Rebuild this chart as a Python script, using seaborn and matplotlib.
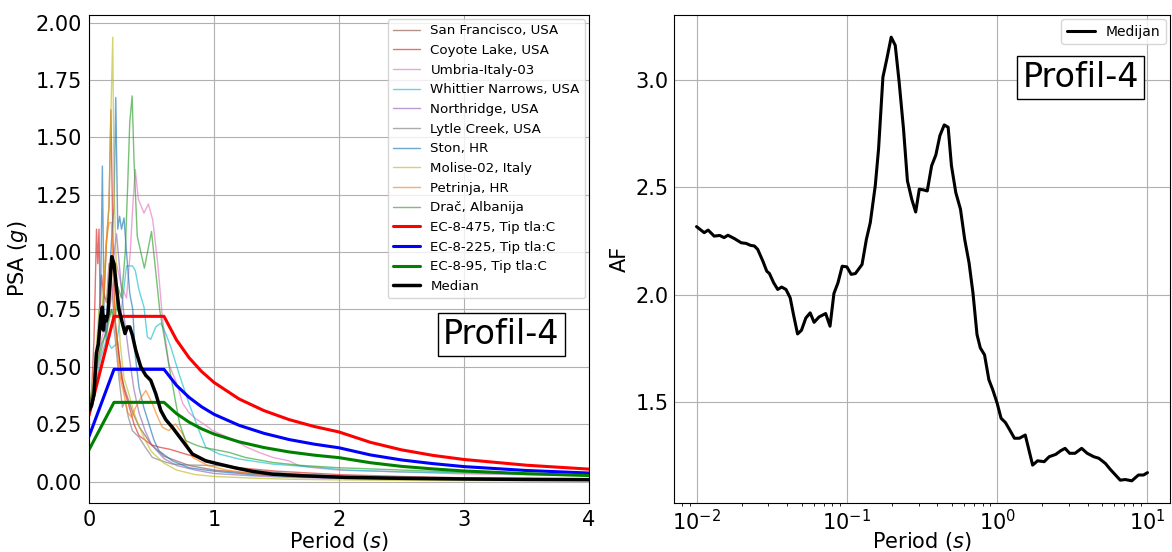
import matplotlib
matplotlib.use("Agg")
import matplotlib.pyplot as plt
import seaborn as sns
import numpy as np

# records (period [s], PSA [g])
T_sf = [0, 0.03, 0.06, 0.08, 0.1, 0.12, 0.14, 0.16, 0.18, 0.2, 0.23, 0.26, 0.3, 0.35, 0.4, 0.5, 0.6, 0.8, 1.0, 1.3, 1.6, 2.0, 2.5, 3.0, 4.0]
psa_sf = [0.33, 0.40, 0.55, 0.62, 0.70, 0.82, 0.78, 0.95, 0.88, 0.72, 0.60, 0.45, 0.38, 0.30, 0.24, 0.16, 0.11, 0.07, 0.05, 0.035, 0.025, 0.018, 0.012, 0.009, 0.006]

T_coyote = [0, 0.02, 0.04, 0.05, 0.06, 0.07, 0.08, 0.09, 0.1, 0.12, 0.14, 0.16, 0.175, 0.19, 0.21, 0.24, 0.28, 0.32, 0.36, 0.4, 0.45, 0.5, 0.56, 0.65, 0.77, 0.9, 1.04, 1.2, 1.5, 2.0, 2.5, 3.0, 4.0]
psa_coyote = [0.30, 0.38, 0.62, 0.85, 1.10, 0.95, 1.10, 0.75, 0.90, 0.80, 1.05, 1.20, 1.62, 1.10, 0.70, 0.55, 0.40, 0.33, 0.25, 0.20, 0.18, 0.16, 0.15, 0.14, 0.12, 0.10, 0.076, 0.06, 0.045, 0.03, 0.022, 0.016, 0.01]

T_umbria = [0, 0.03, 0.06, 0.1, 0.14, 0.18, 0.22, 0.26, 0.3, 0.33, 0.35, 0.37, 0.395, 0.44, 0.475, 0.51, 0.55, 0.59, 0.64, 0.7, 0.75, 0.8, 0.855, 0.92, 0.99, 1.08, 1.17, 1.26, 1.36, 1.47, 1.6, 1.68, 1.8, 2.0, 2.3, 2.6, 3.0, 3.5, 4.0]
psa_umbria = [0.32, 0.38, 0.50, 0.62, 0.70, 0.80, 0.95, 0.85, 0.80, 1.0, 1.2, 1.36, 1.23, 1.17, 1.21, 1.14, 0.95, 0.70, 0.51, 0.43, 0.34, 0.30, 0.273, 0.25, 0.222, 0.20, 0.178, 0.15, 0.127, 0.105, 0.09, 0.069, 0.06, 0.05, 0.045, 0.04, 0.033, 0.03, 0.025]

T_whittier = [0, 0.03, 0.06, 0.1, 0.14, 0.18, 0.22, 0.26, 0.3, 0.347, 0.37, 0.4, 0.44, 0.467, 0.494, 0.534, 0.574, 0.614, 0.654, 0.72, 0.8, 0.88, 0.934, 1.04, 1.2, 1.47, 1.84, 2.05, 2.5, 3.0, 3.5, 4.0]
psa_whittier = [0.33, 0.36, 0.45, 0.55, 0.62, 0.58, 0.60, 0.75, 0.94, 0.94, 0.92, 0.835, 0.76, 0.63, 0.62, 0.674, 0.69, 0.645, 0.587, 0.47, 0.34, 0.222, 0.149, 0.12, 0.098, 0.076, 0.061, 0.05, 0.042, 0.037, 0.032, 0.03]

T_northridge = [0, 0.03, 0.05, 0.08, 0.1, 0.13, 0.16, 0.19, 0.22, 0.25, 0.28, 0.32, 0.36, 0.4, 0.45, 0.5, 0.6, 0.7, 0.85, 1.0, 1.3, 1.6, 2.0, 2.5, 3.0, 4.0]
psa_northridge = [0.30, 0.34, 0.45, 0.60, 0.70, 0.65, 0.85, 0.95, 1.08, 0.90, 0.72, 0.55, 0.40, 0.30, 0.22, 0.16, 0.10, 0.07, 0.05, 0.035, 0.025, 0.018, 0.013, 0.009, 0.007, 0.005]

T_lytle = [0, 0.03, 0.06, 0.09, 0.12, 0.15, 0.18, 0.21, 0.24, 0.267, 0.29, 0.315, 0.347, 0.4, 0.45, 0.507, 0.58, 0.667, 0.8, 1.04, 1.3, 1.6, 2.0, 2.5, 3.0, 4.0]
psa_lytle = [0.32, 0.36, 0.48, 0.55, 0.62, 0.70, 0.75, 0.62, 0.45, 0.324, 0.35, 0.28, 0.222, 0.193, 0.15, 0.105, 0.09, 0.076, 0.072, 0.069, 0.05, 0.035, 0.025, 0.02, 0.016, 0.012]

T_ston = [0, 0.03, 0.06, 0.08, 0.095, 0.107, 0.12, 0.14, 0.16, 0.18, 0.2, 0.214, 0.23, 0.245, 0.26, 0.28, 0.3, 0.326, 0.35, 0.37, 0.4, 0.44, 0.48, 0.52, 0.56, 0.667, 0.8, 1.0, 1.3, 1.6, 2.0, 2.5, 3.0, 4.0]
psa_ston = [0.34, 0.40, 0.55, 0.70, 0.90, 1.375, 0.75, 0.60, 0.85, 1.05, 1.20, 1.674, 1.10, 1.156, 1.10, 1.149, 1.0, 0.82, 0.75, 0.55, 0.41, 0.32, 0.25, 0.18, 0.134, 0.09, 0.06, 0.045, 0.03, 0.022, 0.016, 0.011, 0.008, 0.005]

T_molise = [0, 0.03, 0.06, 0.08, 0.1, 0.12, 0.14, 0.16, 0.175, 0.19, 0.2, 0.22, 0.25, 0.28, 0.32, 0.36, 0.4, 0.45, 0.5, 0.6, 0.7, 0.85, 1.0, 1.3, 1.6, 2.0, 2.5, 3.0, 4.0]
psa_molise = [0.35, 0.42, 0.60, 0.75, 0.68, 0.90, 1.05, 1.20, 1.60, 1.937, 1.30, 0.90, 0.60, 0.45, 0.38, 0.30, 0.24, 0.18, 0.13, 0.08, 0.05, 0.03, 0.022, 0.015, 0.01, 0.007, 0.005, 0.004, 0.003]

T_petrinja = [0, 0.03, 0.06, 0.09, 0.12, 0.14, 0.16, 0.18, 0.2, 0.22, 0.25, 0.28, 0.31, 0.34, 0.374, 0.41, 0.455, 0.507, 0.55, 0.587, 0.64, 0.69, 0.75, 0.83, 0.95, 1.1, 1.3, 1.6, 2.0, 2.5, 3.0, 4.0]
psa_petrinja = [0.31, 0.36, 0.50, 0.65, 0.80, 1.05, 1.127, 1.13, 0.80, 0.60, 0.45, 0.38, 0.30, 0.28, 0.324, 0.36, 0.397, 0.339, 0.28, 0.236, 0.222, 0.251, 0.207, 0.105, 0.07, 0.05, 0.035, 0.025, 0.018, 0.013, 0.01, 0.007]

T_drac = [0, 0.03, 0.06, 0.1, 0.14, 0.18, 0.21, 0.23, 0.26, 0.29, 0.31, 0.326, 0.345, 0.36, 0.386, 0.443, 0.5, 0.566, 0.646, 0.726, 0.774, 0.85, 0.91, 1.0, 1.12, 1.25, 1.47, 1.7, 2.0, 2.5, 3.0, 3.5, 4.0]
psa_drac = [0.34, 0.38, 0.50, 0.60, 0.65, 0.75, 0.70, 0.85, 0.80, 1.00, 1.30, 1.565, 1.681, 1.40, 1.07, 0.93, 1.09, 0.747, 0.485, 0.25, 0.178, 0.16, 0.149, 0.14, 0.127, 0.105, 0.083, 0.07, 0.06, 0.05, 0.04, 0.035, 0.03]

record_names = ["San Francisco, USA", "Coyote Lake, USA", "Umbria-Italy-03", "Whittier Narrows, USA",
                "Northridge, USA", "Lytle Creek, USA", "Ston, HR", "Molise-02, Italy", "Petrinja, HR", "Dra\u010d, Albanija"]
record_T = [T_sf, T_coyote, T_umbria, T_whittier, T_northridge, T_lytle, T_ston, T_molise, T_petrinja, T_drac]
record_psa = [psa_sf, psa_coyote, psa_umbria, psa_whittier, psa_northridge, psa_lytle, psa_ston, psa_molise, psa_petrinja, psa_drac]
record_colors = ["tab:brown", "tab:red", "tab:pink", "tab:cyan", "tab:purple",
                 "tab:gray", "tab:blue", "tab:olive", "tab:orange", "tab:green"]

# EC-8 elastic spectra, ground type C
T_ec8 = [0, 0.2, 0.6, 0.7, 0.8, 0.9, 1.0, 1.2, 1.4, 1.6, 1.8, 2.0, 2.25, 2.5, 2.75, 3.0, 3.5, 4.0]
ec8_475 = [0.288, 0.72, 0.72, 0.617, 0.54, 0.48, 0.432, 0.36, 0.309, 0.27, 0.24, 0.216, 0.171, 0.138, 0.114, 0.096, 0.071, 0.054]
ec8_225 = [0.196, 0.489, 0.489, 0.419, 0.367, 0.326, 0.293, 0.245, 0.21, 0.183, 0.163, 0.147, 0.116, 0.094, 0.078, 0.065, 0.048, 0.037]
ec8_95 = [0.138, 0.345, 0.345, 0.296, 0.259, 0.23, 0.207, 0.173, 0.148, 0.129, 0.115, 0.104, 0.082, 0.066, 0.055, 0.046, 0.034, 0.026]

# median spectrum
T_med = [0, 0.02, 0.04, 0.059, 0.075, 0.094, 0.107, 0.115, 0.126, 0.139, 0.152, 0.166, 0.182, 0.2, 0.219, 0.24, 0.267, 0.288, 0.307, 0.326, 0.347, 0.374, 0.414, 0.454, 0.494, 0.534, 0.574, 0.614, 0.667, 0.747, 0.827, 0.934, 1.04, 1.174, 1.31, 1.47, 1.71, 2.05, 2.5, 3.0, 3.5, 4.0]
psa_med = [0.31, 0.33, 0.38, 0.56, 0.60, 0.72, 0.76, 0.66, 0.72, 0.70, 0.73, 0.85, 0.98, 0.95, 0.85, 0.75, 0.69, 0.645, 0.674, 0.674, 0.638, 0.572, 0.50, 0.463, 0.441, 0.383, 0.31, 0.27, 0.236, 0.178, 0.12, 0.09, 0.076, 0.059, 0.044, 0.032, 0.025, 0.018, 0.014, 0.011, 0.009, 0.008]

# amplification factor (right panel), log10 of period
logT_af = [-2.0, -1.949, -1.923, -1.883, -1.846, -1.817, -1.791, -1.747, -1.703, -1.670, -1.641, -1.615, -1.593, -1.559, -1.533, -1.515, -1.487, -1.460, -1.434, -1.405, -1.377, -1.355, -1.328, -1.302, -1.273, -1.244, -1.218, -1.185, -1.141, -1.112, -1.086, -1.059, -1.031, -1.0, -0.971, -0.943, -0.899, -0.870, -0.844, -0.811, -0.789, -0.760, -0.734, -0.705, -0.678, -0.652, -0.623, -0.597, -0.568, -0.542, -0.518, -0.491, -0.465, -0.436, -0.408, -0.381, -0.352, -0.326, -0.304, -0.275, -0.244, -0.216, -0.187, -0.161, -0.134, -0.112, -0.084, -0.055, -0.029, 0.0, 0.026, 0.055, 0.081, 0.115, 0.148, 0.187, 0.214, 0.236, 0.269, 0.313, 0.346, 0.390, 0.423, 0.452, 0.482, 0.518, 0.562, 0.599, 0.643, 0.676, 0.720, 0.753, 0.782, 0.819, 0.852, 0.896, 0.940, 0.974, 1.0]
af = [2.316, 2.288, 2.300, 2.272, 2.275, 2.265, 2.276, 2.260, 2.241, 2.238, 2.229, 2.226, 2.210, 2.156, 2.109, 2.098, 2.055, 2.024, 2.035, 2.024, 1.985, 1.907, 1.817, 1.834, 1.891, 1.915, 1.871, 1.896, 1.912, 1.853, 2.005, 2.055, 2.132, 2.129, 2.094, 2.098, 2.140, 2.257, 2.335, 2.506, 2.677, 3.011, 3.096, 3.197, 3.159, 2.988, 2.770, 2.529, 2.443, 2.384, 2.490, 2.487, 2.482, 2.599, 2.649, 2.739, 2.789, 2.778, 2.599, 2.474, 2.397, 2.257, 2.148, 2.008, 1.814, 1.752, 1.720, 1.604, 1.557, 1.495, 1.425, 1.405, 1.374, 1.332, 1.332, 1.347, 1.270, 1.207, 1.227, 1.223, 1.246, 1.257, 1.274, 1.285, 1.262, 1.262, 1.285, 1.262, 1.246, 1.239, 1.215, 1.187, 1.165, 1.137, 1.140, 1.134, 1.161, 1.161, 1.172]
T_af = [10 ** v for v in logT_af]

sns.set_style("ticks")
plt.rcParams['font.family'] = ['DejaVu Sans']
plt.rcParams['axes.edgecolor'] = 'black'
plt.rcParams['text.color'] = 'black'
plt.rcParams['axes.labelcolor'] = 'black'
plt.rcParams['xtick.color'] = 'black'
plt.rcParams['ytick.color'] = 'black'

fig, axs = plt.subplots(1, 2, figsize=(11.72, 5.52), dpi=100)
W, H = 1172, 552
axs[0].set_position([89 / W, (H - 503) / H, 500 / W, 488 / H])
axs[1].set_position([674 / W, (H - 503) / H, 496 / W, 488 / H])

ax = axs[0]
for name, t, p, c in zip(record_names, record_T, record_psa, record_colors):
    sns.lineplot(x=t, y=p, ax=ax, color=c, lw=1.0, alpha=0.65, label=name, estimator=None, sort=False)
sns.lineplot(x=T_ec8, y=ec8_475, ax=ax, color="red", lw=2.2, label="EC-8-475, Tip tla:C", estimator=None, sort=False)
sns.lineplot(x=T_ec8, y=ec8_225, ax=ax, color="blue", lw=2.2, label="EC-8-225, Tip tla:C", estimator=None, sort=False)
sns.lineplot(x=T_ec8, y=ec8_95, ax=ax, color="green", lw=2.2, label="EC-8-95, Tip tla:C", estimator=None, sort=False)
sns.lineplot(x=T_med, y=psa_med, ax=ax, color="black", lw=2.5, label="Median", estimator=None, sort=False)
ax.set_xlim(0, 4)
ax.set_xticks([0, 1, 2, 3, 4])
ax.set_yticks(np.arange(0, 2.01, 0.25))
ax.grid(True, color="#b0b0b0", lw=0.8)
ax.set_xlabel("Period ($s$)", fontsize=15, labelpad=0)
ax.set_ylabel("PSA ($g$)", fontsize=15)
ax.tick_params(which="major", labelsize=15, length=0, pad=5)
ax.legend(loc="upper right", fontsize=9.6, framealpha=0.8, handlelength=2.0, borderaxespad=0.3)
ax.text(0.825, 0.345, "Profil-4", transform=ax.transAxes, fontsize=24, ha="center", va="center",
        bbox=dict(facecolor="white", edgecolor="black", boxstyle="square,pad=0.15"))

ax = axs[1]
sns.lineplot(x=T_af, y=af, ax=ax, color="black", lw=2.2, label="Medijan", estimator=None, sort=False)
ax.set_xscale("log")
ax.grid(True, color="#b0b0b0", lw=0.8)
ax.set_xlabel("Period ($s$)", fontsize=15, labelpad=-3)
ax.set_ylabel("AF", fontsize=15)
ax.tick_params(which="major", labelsize=15, length=0, pad=4)
ax.tick_params(which="minor", length=2.5, width=0.6, direction="out")
ax.legend(loc="upper right", fontsize=10, framealpha=0.8, borderaxespad=0.3)
ax.text(0.82, 0.872, "Profil-4", transform=ax.transAxes, fontsize=24, ha="center", va="center",
        bbox=dict(facecolor="white", edgecolor="black", boxstyle="square,pad=0.15"))

fig.savefig("out.png", dpi=100)
